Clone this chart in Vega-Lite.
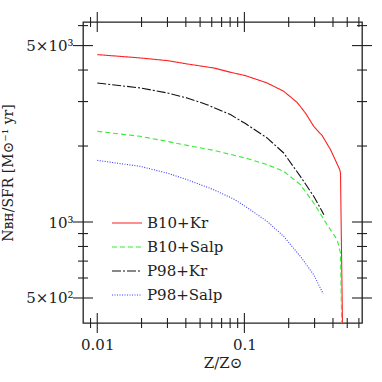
{
  "$schema": "https://vega.github.io/schema/vega-lite/v6.json",
  "width": 279,
  "height": 301,
  "autosize": "none",
  "padding": {"left": 83, "top": 22, "right": 20, "bottom": 59},
  "background": "white",
  "config": {
    "view": {"stroke": "#222", "strokeWidth": 1.3},
    "font": "DejaVu Serif",
    "axis": {
      "grid": false,
      "domain": false,
      "ticks": false,
      "labelFont": "DejaVu Serif",
      "labelFontSize": 15,
      "labelColor": "#222",
      "titleFont": "DejaVu Serif",
      "titleFontWeight": "normal",
      "titleFontSize": 15,
      "titleColor": "#222"
    },
    "tick": {"thickness": 1.1, "color": "#222", "opacity": 1, "clip": true}
  },
  "datasets": {
    "curves": [
      {"model": "B10+Kr", "z": 0.01, "n": 4605},
      {"model": "B10+Kr", "z": 0.0196, "n": 4467},
      {"model": "B10+Kr", "z": 0.0298, "n": 4361},
      {"model": "B10+Kr", "z": 0.0408, "n": 4229},
      {"model": "B10+Kr", "z": 0.0618, "n": 4077},
      {"model": "B10+Kr", "z": 0.0803, "n": 3920},
      {"model": "B10+Kr", "z": 0.1016, "n": 3802},
      {"model": "B10+Kr", "z": 0.1426, "n": 3556},
      {"model": "B10+Kr", "z": 0.185, "n": 3296},
      {"model": "B10+Kr", "z": 0.228, "n": 2979},
      {"model": "B10+Kr", "z": 0.26, "n": 2702},
      {"model": "B10+Kr", "z": 0.296, "n": 2394},
      {"model": "B10+Kr", "z": 0.338, "n": 2198},
      {"model": "B10+Kr", "z": 0.385, "n": 1935},
      {"model": "B10+Kr", "z": 0.445, "n": 1611},
      {"model": "B10+Kr", "z": 0.45, "n": 1560},
      {"model": "B10+Kr", "z": 0.467, "n": 300},
      {"model": "B10+Salp", "z": 0.01, "n": 2287},
      {"model": "B10+Salp", "z": 0.0196, "n": 2185},
      {"model": "B10+Salp", "z": 0.0298, "n": 2087},
      {"model": "B10+Salp", "z": 0.0408, "n": 2012},
      {"model": "B10+Salp", "z": 0.0618, "n": 1923},
      {"model": "B10+Salp", "z": 0.1016, "n": 1793},
      {"model": "B10+Salp", "z": 0.1426, "n": 1688},
      {"model": "B10+Salp", "z": 0.185, "n": 1588},
      {"model": "B10+Salp", "z": 0.24, "n": 1406},
      {"model": "B10+Salp", "z": 0.296, "n": 1189},
      {"model": "B10+Salp", "z": 0.365, "n": 975},
      {"model": "B10+Salp", "z": 0.427, "n": 851},
      {"model": "B10+Salp", "z": 0.45, "n": 753},
      {"model": "B10+Salp", "z": 0.462, "n": 300},
      {"model": "P98+Kr", "z": 0.01, "n": 3556},
      {"model": "P98+Kr", "z": 0.0196, "n": 3397},
      {"model": "P98+Kr", "z": 0.0298, "n": 3246},
      {"model": "P98+Kr", "z": 0.0408, "n": 3101},
      {"model": "P98+Kr", "z": 0.0557, "n": 2917},
      {"model": "P98+Kr", "z": 0.0803, "n": 2664},
      {"model": "P98+Kr", "z": 0.1016, "n": 2455},
      {"model": "P98+Kr", "z": 0.1426, "n": 2153},
      {"model": "P98+Kr", "z": 0.185, "n": 1877},
      {"model": "P98+Kr", "z": 0.24, "n": 1517},
      {"model": "P98+Kr", "z": 0.296, "n": 1264},
      {"model": "P98+Kr", "z": 0.347, "n": 1069},
      {"model": "P98+Salp", "z": 0.01, "n": 1755},
      {"model": "P98+Salp", "z": 0.0196, "n": 1661},
      {"model": "P98+Salp", "z": 0.0298, "n": 1563},
      {"model": "P98+Salp", "z": 0.0408, "n": 1472},
      {"model": "P98+Salp", "z": 0.0618, "n": 1343},
      {"model": "P98+Salp", "z": 0.0846, "n": 1233},
      {"model": "P98+Salp", "z": 0.1016, "n": 1153},
      {"model": "P98+Salp", "z": 0.1426, "n": 1006},
      {"model": "P98+Salp", "z": 0.185, "n": 877},
      {"model": "P98+Salp", "z": 0.24, "n": 731},
      {"model": "P98+Salp", "z": 0.296, "n": 618},
      {"model": "P98+Salp", "z": 0.343, "n": 520}
    ],
    "xminor": [
      {"z": 0.009}, {"z": 0.02}, {"z": 0.03}, {"z": 0.04}, {"z": 0.05}, {"z": 0.06}, {"z": 0.07}, {"z": 0.08}, {"z": 0.09},
      {"z": 0.2}, {"z": 0.3}, {"z": 0.4}, {"z": 0.5}, {"z": 0.6}
    ],
    "xmajor": [{"z": 0.01}, {"z": 0.1}],
    "yminor": [
      {"n": 600}, {"n": 700}, {"n": 800}, {"n": 900}, {"n": 2000}, {"n": 3000}, {"n": 4000}, {"n": 6000}
    ],
    "ymajor": [{"n": 500}, {"n": 1000}, {"n": 5000}]
  },
  "layer": [
    {
      "data": {"name": "xminor"},
      "mark": {"type": "tick", "orient": "vertical", "size": 10},
      "encoding": {
        "x": {"field": "z", "type": "quantitative"},
        "y": {"datum": 398, "type": "quantitative"}
      }
    },
    {
      "data": {"name": "xminor"},
      "mark": {"type": "tick", "orient": "vertical", "size": 10},
      "encoding": {
        "x": {"field": "z", "type": "quantitative"},
        "y": {"datum": 6200, "type": "quantitative"}
      }
    },
    {
      "data": {"name": "xmajor"},
      "mark": {"type": "tick", "orient": "vertical", "size": 20},
      "encoding": {
        "x": {"field": "z", "type": "quantitative"},
        "y": {"datum": 398, "type": "quantitative"}
      }
    },
    {
      "data": {"name": "xmajor"},
      "mark": {"type": "tick", "orient": "vertical", "size": 20},
      "encoding": {
        "x": {"field": "z", "type": "quantitative"},
        "y": {"datum": 6200, "type": "quantitative"}
      }
    },
    {
      "data": {"name": "yminor"},
      "mark": {"type": "tick", "orient": "horizontal", "size": 10},
      "encoding": {
        "y": {"field": "n", "type": "quantitative"},
        "x": {"datum": 0.008, "type": "quantitative"}
      }
    },
    {
      "data": {"name": "yminor"},
      "mark": {"type": "tick", "orient": "horizontal", "size": 10},
      "encoding": {
        "y": {"field": "n", "type": "quantitative"},
        "x": {"datum": 0.63, "type": "quantitative"}
      }
    },
    {
      "data": {"name": "ymajor"},
      "mark": {"type": "tick", "orient": "horizontal", "size": 20},
      "encoding": {
        "y": {"field": "n", "type": "quantitative"},
        "x": {"datum": 0.008, "type": "quantitative"}
      }
    },
    {
      "data": {"name": "ymajor"},
      "mark": {"type": "tick", "orient": "horizontal", "size": 20},
      "encoding": {
        "y": {"field": "n", "type": "quantitative"},
        "x": {"datum": 0.63, "type": "quantitative"}
      }
    },
    {
      "data": {"name": "curves"},
      "mark": {"type": "line", "strokeWidth": 1.1, "clip": true},
      "encoding": {
        "x": {
          "field": "z", "type": "quantitative",
          "scale": {"type": "log", "domain": [0.008, 0.63], "nice": false},
          "axis": {
            "orient": "bottom",
            "title": "Z/Z⊙",
            "values": [0.01, 0.1],
            "labelExpr": "datum.value == 0.01 ? '0.01' : '0.1'",
            "labelPadding": 14,
            "labelFlush": false,
            "labelOverlap": false,
            "titlePadding": 3
          }
        },
        "y": {
          "field": "n", "type": "quantitative",
          "scale": {"type": "log", "domain": [398, 6200], "nice": false},
          "axis": {
            "orient": "left",
            "title": "Nʙʜ/SFR [M⊙⁻¹ yr]",
            "titleFontSize": 14,
            "values": [500, 1000, 5000],
            "labelExpr": "datum.value == 500 ? '5×10²' : (datum.value == 1000 ? '10³' : '5×10³')",
            "labelPadding": 10,
            "labelFlush": false,
            "labelOverlap": false,
            "titlePadding": 10
          }
        },
        "color": {
          "field": "model", "type": "nominal",
          "scale": {"domain": ["B10+Kr", "B10+Salp", "P98+Kr", "P98+Salp"], "range": ["#ff2020", "#33ee33", "#111111", "#3a3aff"]},
          "legend": {
            "orient": "none", "legendX": 28, "legendY": 185,
            "title": null,
            "symbolType": "stroke", "symbolSize": 900, "symbolStrokeWidth": 1.2,
            "labelFont": "DejaVu Serif", "labelFontSize": 15, "labelColor": "#222",
            "labelOffset": 4, "rowPadding": 0, "padding": 0
          }
        },
        "strokeDash": {
          "field": "model", "type": "nominal",
          "scale": {"domain": ["B10+Kr", "B10+Salp", "P98+Kr", "P98+Salp"], "range": [[1, 0], [5, 3], [9, 2, 2, 2], [1, 1.5]]},
          "legend": {
            "orient": "none", "legendX": 28, "legendY": 185,
            "title": null,
            "symbolType": "stroke", "symbolSize": 900, "symbolStrokeWidth": 1.2,
            "labelFont": "DejaVu Serif", "labelFontSize": 15, "labelColor": "#222",
            "labelOffset": 4, "rowPadding": 0, "padding": 0
          }
        }
      }
    }
  ]
}
